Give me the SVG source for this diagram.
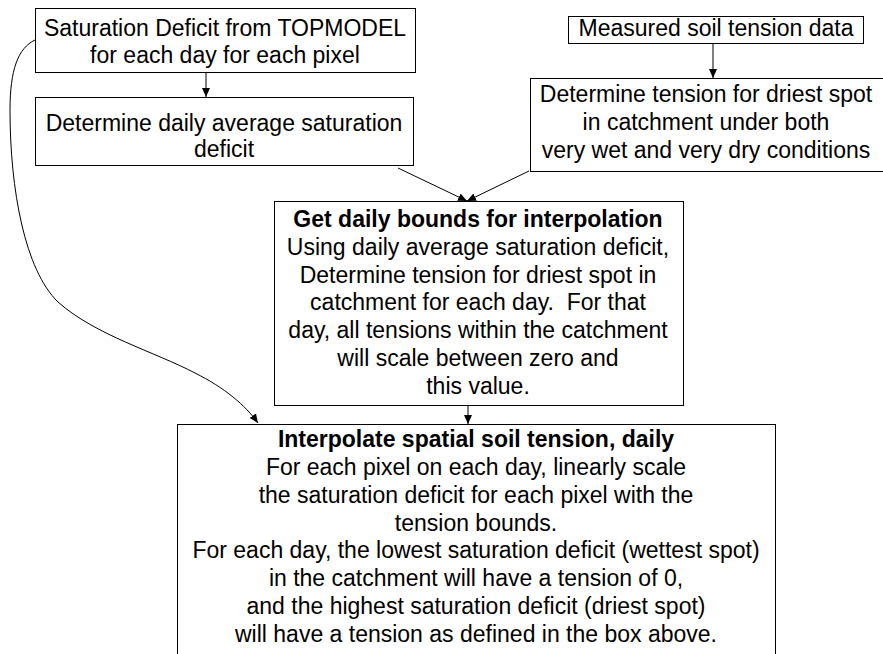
<svg xmlns="http://www.w3.org/2000/svg" width="883" height="654" viewBox="0 0 883 654">
<style>
.box{fill:#fff;stroke:#000;stroke-width:1}
text{font-family:"Liberation Sans",Arial,sans-serif;font-size:23px;fill:#000;text-anchor:middle}
.b{font-weight:bold}
.con{fill:none;stroke:#000;stroke-width:1}
</style>
<defs>
<marker id="ah" markerUnits="userSpaceOnUse" markerWidth="10" markerHeight="8" refX="9" refY="4" orient="auto">
<path d="M0,0 L9,4 L0,8 Z" fill="#000"/>
</marker>
</defs>
<rect width="883" height="654" fill="#fff"/>
<g id="connectors">
<path class="con" d="M206,73 L206,97" marker-end="url(#ah)"/>
<path class="con" d="M713,43 L713,78" marker-end="url(#ah)"/>
<path class="con" d="M398,168 L467,201" marker-end="url(#ah)"/>
<path class="con" d="M529,171 L467,201" marker-end="url(#ah)"/>
<path class="con" d="M468,405 L468,424" marker-end="url(#ah)"/>
<path class="con" d="M35,40 C18,48 10,70 10,110 C10,190 25,270 58,302 C95,335 155,352 195,373 C225,388 245,405 258,423" marker-end="url(#ah)"/>
</g>
<g id="n1">
<rect class="box" x="35.5" y="8.5" width="380" height="64"/>
<text x="225" y="36">Saturation Deficit from TOPMODEL</text>
<text x="225" y="62.5">for each day for each pixel</text>
</g>
<g id="n2">
<rect class="box" x="35.5" y="97.5" width="378" height="68"/>
<text x="224" y="130.5">Determine daily average saturation</text>
<text x="224" y="156.5">deficit</text>
</g>
<g id="n3">
<rect class="box" x="568.5" y="16.5" width="295" height="27"/>
<text x="716" y="36">Measured soil tension data</text>
</g>
<g id="n4">
<rect class="box" x="530.5" y="78.5" width="354" height="93"/>
<text x="706" y="102">Determine tension for driest spot</text>
<text x="706" y="130">in catchment under both</text>
<text x="706" y="158">very wet and very dry conditions</text>
</g>
<g id="n5">
<rect class="box" x="274.5" y="201.5" width="409" height="204"/>
<text class="b" x="478" y="227">Get daily bounds for interpolation</text>
<text x="478" y="255">Using daily average saturation deficit,</text>
<text x="478" y="282.5">Determine tension for driest spot in</text>
<text x="478" y="310" xml:space="preserve">catchment for each day.  For that</text>
<text x="478" y="338">day, all tensions within the catchment</text>
<text x="478" y="366">will scale between zero and</text>
<text x="478" y="393.5">this value.</text>
</g>
<g id="n6">
<rect class="box" x="177.5" y="424.5" width="598" height="240"/>
<text class="b" x="476" y="447">Interpolate spatial soil tension, daily</text>
<text x="476" y="475">For each pixel on each day, linearly scale</text>
<text x="476" y="502.5">the saturation deficit for each pixel with the</text>
<text x="476" y="530.5">tension bounds.</text>
<text x="476" y="558">For each day, the lowest saturation deficit (wettest spot)</text>
<text x="476" y="586">in the catchment will have a tension of 0,</text>
<text x="476" y="614">and the highest saturation deficit (driest spot)</text>
<text x="476" y="641.5">will have a tension as defined in the box above.</text>
</g>
</svg>
